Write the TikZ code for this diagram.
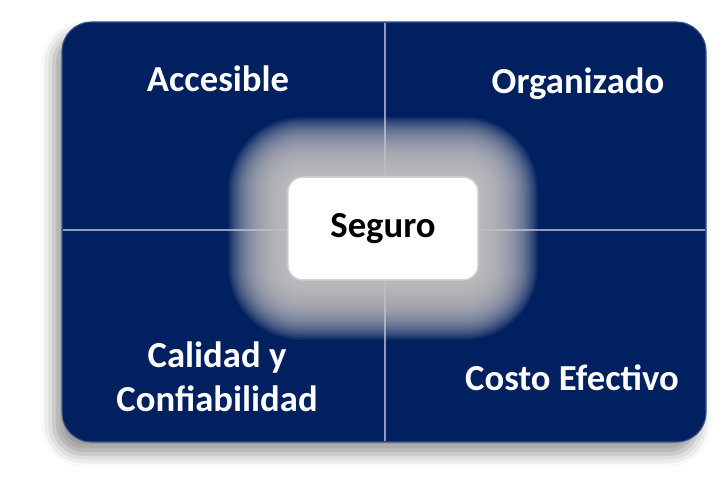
\documentclass[tikz,border=0pt]{standalone}
\usepackage{fontspec}
\setmainfont{Carlito}
\usepackage{tikz}
\usetikzlibrary{shadows.blur}

\definecolor{azul}{HTML}{002060}
\definecolor{brillo}{HTML}{CCC8C8}
\definecolor{linea}{HTML}{8E9CC2}

\begin{document}
\begin{tikzpicture}[x=0.75pt,y=-0.75pt,
  etiqueta/.style={text=white,font=\fontsize{27.5}{33}\selectfont\bfseries,align=center,inner sep=0pt,anchor=base},
  caja/.style={fill=white,draw=gray!35,line width=1pt,rounded corners=11pt,
    minimum width=142.5pt,minimum height=77pt,font=\fontsize{27.5}{33}\selectfont\bfseries}]
  \useasboundingbox (0,0) rectangle (724,488);

  % Fondo con sombra
  \fill[azul,draw=azul!75!white,line width=0.8pt,rounded corners=22pt,
    blur shadow={shadow xshift=-6pt,shadow yshift=-9pt,shadow blur radius=10pt,shadow opacity=40}]
    (62,22) rectangle (706,442);

  % Divisiones entre cuadrantes
  \draw[linea,line width=1pt] (385,23) -- (385,441);
  \draw[linea,line width=1pt] (63,230) -- (705,230);

  % Brillo alrededor del centro
  \foreach \k in {1,...,40}{
    \pgfmathsetmacro{\r}{11+1.1*\k}
    \fill[brillo,opacity=0.07,rounded corners=\r pt] (288-1.5*\k,177-1.5*\k) rectangle (478+1.5*\k,280+1.5*\k);
  }

  % Cuadro central
  \node[caja] (seguro) at (383,228.5) {};
  \node[etiqueta,text=black] (tseguro) at (383,238) {Seguro};

  % Etiquetas
  \node[etiqueta] (accesible) at (218,92) {Accesible};
  \node[etiqueta] (organizado) at (578,94) {Organizado};
  \node[etiqueta] (calidad) at (217,411) {Calidad y\\Confiabilidad};
  \node[etiqueta] (costo) at (572,390) {Costo Efectivo};
\end{tikzpicture}
\end{document}
